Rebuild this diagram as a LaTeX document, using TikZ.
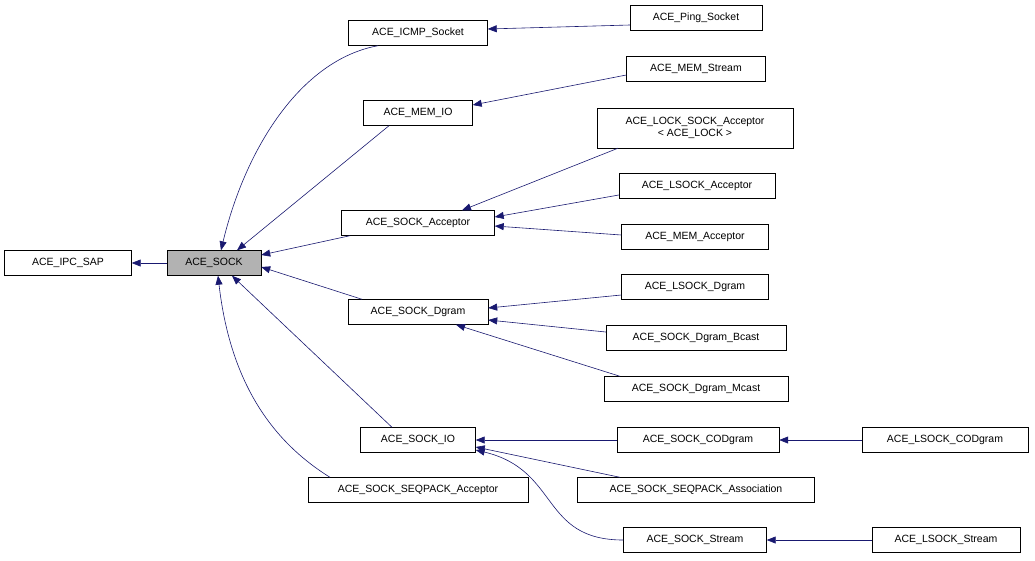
\documentclass[tikz,border=0pt]{standalone}
\usepackage{fontspec}
\setmainfont{Liberation Sans}
\usetikzlibrary{arrows.meta}
\begin{document}
\begin{tikzpicture}[x=1pt,y=-1pt,
 box/.style={draw=black,fill=white,minimum height=25pt,inner sep=1pt,font=\fontsize{10.5}{12.5}\selectfont,align=center},
 edge/.style={draw={rgb,255:red,25;green,25;blue,112},line width=0.6pt,{Triangle[width=7pt,length=9pt]}-}]
\useasboundingbox (0,0) rectangle (1035,560);
\node[box,minimum width=127] (ipc) at (68,263) {ACE\_IPC\_SAP};
\node[box,minimum width=94,fill=black!30] (sock) at (214,263) {ACE\_SOCK};
\node[box,minimum width=139] (icmp) at (418,33) {ACE\_ICMP\_Socket};
\node[box,minimum width=132] (ping) at (696,18) {ACE\_Ping\_Socket};
\node[box,minimum width=109] (memio) at (418,113) {ACE\_MEM\_IO};
\node[box,minimum width=139] (memst) at (696,69) {ACE\_MEM\_Stream};
\node[box,minimum width=196,minimum height=40] (lock) at (695,128) {ACE\_LOCK\_SOCK\_Acceptor\\ {\textless} ACE\_LOCK {\textgreater}};
\node[box,minimum width=153] (acc) at (418,223) {ACE\_SOCK\_Acceptor};
\node[box,minimum width=156] (lacc) at (697,186) {ACE\_LSOCK\_Acceptor};
\node[box,minimum width=147] (macc) at (695,237) {ACE\_MEM\_Acceptor};
\node[box,minimum width=140] (dg) at (418,312) {ACE\_SOCK\_Dgram};
\node[box,minimum width=147] (ldg) at (695,287) {ACE\_LSOCK\_Dgram};
\node[box,minimum width=180] (bc) at (696,338) {ACE\_SOCK\_Dgram\_Bcast};
\node[box,minimum width=184] (mc) at (696,389) {ACE\_SOCK\_Dgram\_Mcast};
\node[box,minimum width=115] (io) at (418,440) {ACE\_SOCK\_IO};
\node[box,minimum width=162] (cod) at (698,440) {ACE\_SOCK\_CODgram};
\node[box,minimum width=166] (lcod) at (945,440) {ACE\_LSOCK\_CODgram};
\node[box,minimum width=220] (spa) at (418,490) {ACE\_SOCK\_SEQPACK\_Acceptor};
\node[box,minimum width=237] (spas) at (696,490) {ACE\_SOCK\_SEQPACK\_Association};
\node[box,minimum width=143] (st) at (695,540) {ACE\_SOCK\_Stream};
\node[box,minimum width=148] (lst) at (946,540) {ACE\_LSOCK\_Stream};

\draw[edge] (ipc) -- (sock);
\draw[edge] ([xshift=7]sock.north) .. controls (245,150) and (300,60) .. ([xshift=-40]icmp.south);
\draw[edge] ([xshift=23]sock.north) -- ([xshift=-29]memio.south);
\draw[edge] ([yshift=8]sock.east) -- ([xshift=-68]acc.south);
\draw[edge] ([yshift=-4]sock.east) -- ([xshift=-56]dg.north);
\draw[edge] ([xshift=18]sock.south) -- ([xshift=-26]io.north);
\draw[edge] ([xshift=4]sock.south) .. controls (230,380) and (270,440) .. ([xshift=-88]spa.north);
\draw[edge] ([yshift=4]icmp.east) -- ([yshift=-7]ping.west);
\draw[edge] ([yshift=8]memio.east) -- ([yshift=-6]memst.west);
\draw[edge] ([xshift=44]acc.north) -- ([xshift=-77]lock.south);
\draw[edge] ([yshift=6]acc.east) -- ([yshift=-9]lacc.west);
\draw[edge] ([yshift=-3]acc.east) -- ([yshift=2]macc.west);
\draw[edge] ([yshift=4]dg.east) -- ([yshift=-8]ldg.west);
\draw[edge] ([yshift=-8]dg.east) -- ([yshift=6]bc.west);
\draw[edge] ([xshift=38]dg.south) -- ([xshift=-76]mc.north);
\draw[edge] (io) -- (cod);
\draw[edge] (cod) -- (lcod);
\draw[edge] ([yshift=-7]io.east) -- ([xshift=-76]spas.north);
\draw[edge] ([yshift=-10]io.east) .. controls (560,470) and (540,540) .. (st.west);
\draw[edge] (st) -- (lst);
\end{tikzpicture}
\end{document}
